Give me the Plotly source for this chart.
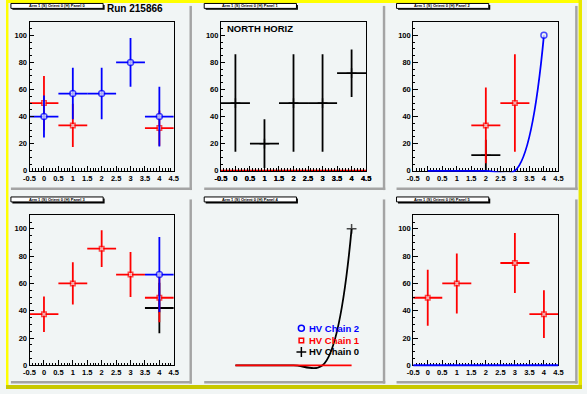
import plotly.graph_objects as go

W, H = 587, 394

# ---------------- data ----------------
X = [0, 1, 2, 3, 4]
X_HALF_WIDTH = [0.5, 0.5, 0.5, 0.5, 0.5]
X_TICK_VALS = [-0.5, 0, 0.5, 1, 1.5, 2, 2.5, 3, 3.5, 4, 4.5]
X_TICK_TEXT = ["-0.5", "0", "0.5", "1", "1.5", "2", "2.5", "3", "3.5", "4", "4.5"]
Y_TICK_VALS = [0, 20, 40, 60, 80, 100]
Y_TICK_TEXT = ["0", "20", "40", "60", "80", "100"]
PANEL_TITLES = ["Arm 1 (S) Orient 0 (H) Panel 0", "Arm 1 (S) Orient 0 (H) Panel 1",
                "Arm 1 (S) Orient 0 (H) Panel 2", "Arm 1 (S) Orient 0 (H) Panel 3",
                "Arm 1 (S) Orient 0 (H) Panel 4", "Arm 1 (S) Orient 0 (H) Panel 5"]
RUN_LABEL = "Run 215866"
NORTH_LABEL = "NORTH HORIZ"
LEGEND_NAMES = ["HV Chain 2", "HV Chain 1", "HV Chain 0"]

P0_CH2_Y = [40, 57, 57, 80, 40]
P0_CH2_E = [15.5, 19, 19, 18, 22]
P0_CH1_Y = [50, 33.5, None, None, 31.5]
P0_CH1_E = [20, 16, 0, 0, 13]

P1_CH0_Y = [50, 20, 50, 50, 72]
P1_CH0_E = [36, 18, 36, 36, 17.5]
P1_CH1_Y = [0, 0, 0, 0, 0]

P2_CH0_Y = [None, None, 11.5, None, None]
P2_CH0_E = [0, 0, 11.5, 0, 0]
P2_CH1_Y = [None, None, 33.5, 50, None]
P2_CH1_E = [0, 0, 28, 36, 0]
P2_CH2_CURVE = [0, 0, 0, 0, 100]

P3_CH0_Y = [None, None, None, None, 42]
P3_CH0_E = [0, 0, 0, 0, 18.5]
P3_CH1_Y = [37.5, 60, 85.5, 66.5, 49.5]
P3_CH1_E = [13, 15.5, 13.5, 16.5, 18]
P3_CH2_Y = [None, None, None, None, 66.5]
P3_CH2_E = [0, 0, 0, 0, 27.5]

P4_CH0_CURVE = [0, 0, 0, 0, 100]
P4_CH1_CURVE = [0, 0, 0, 0, 0]

P5_CH1_Y = [49.5, 60, None, 75, 37.5]
P5_CH1_E = [20.5, 22, 0, 22, 17.5]
P5_CH2_Y = [0, 0, 0, 0, 0]

# ---------------- style ----------------
BG = "#f1f5f5"
YELLOW = "#ffff00"
YELLOW_DARK = "#c8c800"
SHADOW = "#a4a4a4"
FONT = "Liberation Sans"
LW = 1.8
CHAIN = {
    2: dict(color="#0000ff", symbol="circle", size=6),
    1: dict(color="#ff0000", symbol="square", size=4.5),
    0: dict(color="#000000", symbol="cross-thin", size=7),
}

COL_X = [(24, 171), (219, 367), (415, 563)]
ROW_Y = [(22, 173), (218, 370)]
PAD_X = [(2, 187), (199, 384), (395, 580)]
PAD_Y = [(3, 190), (199, 386)]


def fx(px):
    return px / W


def fy(py):
    return 1 - py / H


fig = go.Figure()


def ax(p):
    return ("x" if p == 0 else f"x{p + 1}"), ("y" if p == 0 else f"y{p + 1}")


def err_trace(p, ys, es, ch):
    st = CHAIN[ch]
    xa, ya = ax(p)
    sizes = [0 if (v is None or v == 0) else st["size"] for v in ys]
    return go.Scatter(
        x=X, y=ys, mode="markers", xaxis=xa, yaxis=ya,
        cliponaxis=False, showlegend=False, hoverinfo="skip",
        marker=dict(symbol=st["symbol"], size=sizes,
                    color=BG if ch != 0 else st["color"],
                    line=dict(color=st["color"], width=1.5)),
        error_y=dict(type="data", array=es, thickness=LW, width=0, color=st["color"]),
        error_x=dict(type="data", array=X_HALF_WIDTH, thickness=LW, width=0, color=st["color"]),
    )


def zero_bins_trace(p, ys, ch, yaxis):
    """Empty bins: horizontal bars of +-half width drawn as one polyline."""
    st = CHAIN[ch]
    xa, _ = ax(p)
    xs = [x - h for x, h in zip(X, X_HALF_WIDTH)] + [X[-1] + X_HALF_WIDTH[-1]]
    yv = list(ys) + [ys[-1]]
    return go.Scatter(x=xs, y=yv, mode="lines", xaxis=xa, yaxis=yaxis,
                      line=dict(shape="hv", color=st["color"], width=2),
                      showlegend=False, hoverinfo="skip")


def curve_trace(p, ys, ch, yaxis):
    st = CHAIN[ch]
    xa, _ = ax(p)
    sizes = [0 if v == 0 else st["size"] for v in ys]
    lws = [0 if v == 0 else 1.5 for v in ys]
    return go.Scatter(
        x=X, y=ys, mode="lines+markers", xaxis=xa, yaxis=yaxis,
        cliponaxis=False, showlegend=False, hoverinfo="skip",
        line=dict(shape="spline", color=st["color"], width=LW),
        marker=dict(symbol=st["symbol"], size=sizes,
                    color=BG if ch != 0 else st["color"],
                    line=dict(color=st["color"], width=lws)),
    )


# panel 0
fig.add_trace(err_trace(0, P0_CH1_Y, P0_CH1_E, 1))
fig.add_trace(err_trace(0, P0_CH2_Y, P0_CH2_E, 2))
# panel 1
fig.add_trace(err_trace(1, P1_CH0_Y, P1_CH0_E, 0))
fig.add_trace(zero_bins_trace(1, P1_CH1_Y, 1, "y9"))
# panel 2
fig.add_trace(err_trace(2, P2_CH0_Y, P2_CH0_E, 0))
fig.add_trace(err_trace(2, P2_CH1_Y, P2_CH1_E, 1))
fig.add_trace(curve_trace(2, P2_CH2_CURVE, 2, "y10"))
# panel 3
fig.add_trace(err_trace(3, P3_CH0_Y, P3_CH0_E, 0))
fig.add_trace(err_trace(3, P3_CH1_Y, P3_CH1_E, 1))
fig.add_trace(err_trace(3, P3_CH2_Y, P3_CH2_E, 2))
# panel 4 (curves on an extended hidden y axis so the dip below 0 shows)
fig.add_trace(curve_trace(4, P4_CH0_CURVE, 0, "y7"))
fig.add_trace(curve_trace(4, P4_CH1_CURVE, 1, "y7"))
# panel 5
fig.add_trace(err_trace(5, P5_CH1_Y, P5_CH1_E, 1))
fig.add_trace(zero_bins_trace(5, P5_CH2_Y, 2, "y11"))

# legend keys (pixel-space hidden axes)
LEG_X_MARK, LEG_X_TEXT_CENTER = 301, 334.5
LEG_ROWS = [332.5, 345, 356.5]
for name, ch, yy in zip(LEGEND_NAMES, [2, 1, 0], LEG_ROWS):
    st = CHAIN[ch]
    fig.add_trace(go.Scatter(
        x=[LEG_X_MARK], y=[yy], mode="markers", xaxis="x8", yaxis="y8",
        showlegend=False, hoverinfo="skip", cliponaxis=False,
        marker=dict(symbol=st["symbol"], size=st["size"],
                    color=BG if ch != 0 else st["color"],
                    line=dict(color=st["color"], width=1.5))))

tickfont = dict(family=FONT, size=7.5, color="black", weight="bold")
layout = dict(
    width=W, height=H, margin=dict(l=0, r=0, t=0, b=0, pad=0),
    paper_bgcolor=BG, plot_bgcolor="rgba(0,0,0,0)", showlegend=False,
)
for p in range(6):
    r, c = divmod(p, 3)
    xk = "xaxis" if p == 0 else f"xaxis{p + 1}"
    yk = "yaxis" if p == 0 else f"yaxis{p + 1}"
    xa, ya = ax(p)
    layout[xk] = dict(
        domain=[fx(COL_X[c][0]), fx(COL_X[c][1])], range=[-0.5, 4.5], anchor=ya,
        tickmode="array", tickvals=X_TICK_VALS, ticktext=X_TICK_TEXT,
        ticks="inside", ticklen=5, tickwidth=1, tickcolor="black",
        minor=dict(dtick=0.1, tick0=0, ticks="inside", ticklen=2.5, tickwidth=1, tickcolor="black"),
        showline=True, linecolor="black", linewidth=1, mirror=True,
        showgrid=False, zeroline=False, tickfont=tickfont, fixedrange=True,
    )
    layout[yk] = dict(
        domain=[fy(ROW_Y[r][1]), fy(ROW_Y[r][0])], range=[0, 110], anchor=xa,
        tickmode="array", tickvals=Y_TICK_VALS, ticktext=Y_TICK_TEXT,
        ticks="inside", ticklen=4.5, tickwidth=1, tickcolor="black",
        minor=dict(dtick=5, tick0=0, ticks="inside", ticklen=2.2, tickwidth=1, tickcolor="black"),
        showline=True, linecolor="black", linewidth=1, mirror=True,
        showgrid=False, zeroline=False, tickfont=tickfont, fixedrange=True,
    )


def ext_axis(row, anchor, ext_px):
    y_top, y_bot = ROW_Y[row]
    lo = -110 * ext_px / (y_bot - y_top)
    return dict(domain=[fy(y_bot + ext_px), fy(y_top)], range=[lo, 110],
                anchor=anchor, visible=False, fixedrange=True)


# hidden helper y axes, drawn on top of the frames, slightly extended below y=0
layout["yaxis7"] = ext_axis(1, "x5", 16)
layout["yaxis9"] = ext_axis(0, "x2", 3)
layout["yaxis10"] = ext_axis(0, "x3", 1.5)
layout["yaxis11"] = ext_axis(1, "x6", 3)
layout["xaxis8"] = dict(domain=[0, 1], range=[0, W], anchor="y8", visible=False, fixedrange=True)
layout["yaxis8"] = dict(domain=[0, 1], range=[H, 0], anchor="x8", visible=False, fixedrange=True)

shapes = []


def rect(x0, y0, x1, y1, fill, line=None, lw=0):
    shapes.append(dict(type="rect", xref="paper", yref="paper", layer="below",
                       x0=fx(x0), x1=fx(x1), y0=fy(y1), y1=fy(y0),
                       fillcolor=fill, line=dict(color=line or fill, width=lw)))


# canvas border
rect(0, 0, W, 3, YELLOW)
rect(0, 0, 2.5, H, YELLOW)
rect(W - 3.5, 0, W, H, "#e8e800")
rect(0, H - 4, W, H, YELLOW_DARK)

annotations = []
for p in range(6):
    r, c = divmod(p, 3)
    x0, x1 = PAD_X[c]
    y0, y1 = PAD_Y[r]
    rect(x1, y0 + 3, x1 + 2.5, y1 + 2.5, SHADOW)
    rect(x0 + 3, y1, x1 + 2.5, y1 + 2.5, SHADOW)
    bx0, bx1 = x0 + 3, x0 + 97
    by0, by1 = y0 + 0.5, y0 + 5.5
    rect(bx0 + 1.5, by0 + 1.5, bx1 + 1.5, by1 + 1.5, "black")
    rect(bx0, by0, bx1, by1, "white", "black", 1)
    annotations.append(dict(
        text=PANEL_TITLES[p], xref="paper", yref="paper", showarrow=False,
        x=fx((bx0 + bx1) / 2), y=fy((by0 + by1) / 2), xanchor="center", yanchor="middle",
        font=dict(family=FONT, size=4, color="black", weight="bold")))

annotations.append(dict(text=RUN_LABEL, xref="paper", yref="paper", showarrow=False,
                        x=fx(131), y=fy(9), xanchor="center", yanchor="middle",
                        font=dict(family=FONT, size=10, color="black", weight="bold")))
annotations.append(dict(text=NORTH_LABEL, xref="paper", yref="paper", showarrow=False,
                        x=fx(259), y=fy(28.5), xanchor="center", yanchor="middle",
                        font=dict(family=FONT, size=9.5, color="black", weight="bold")))
for name, ch, yy in zip(LEGEND_NAMES, [2, 1, 0], LEG_ROWS):
    annotations.append(dict(text=name, xref="paper", yref="paper", showarrow=False,
                            x=fx(LEG_X_TEXT_CENTER), y=fy(yy), xanchor="center", yanchor="middle",
                            font=dict(family=FONT, size=9.5, color=CHAIN[ch]["color"], weight="bold")))

layout["shapes"] = shapes
layout["annotations"] = annotations
fig.update_layout(**layout)
fig.write_html("out.html", config={"displayModeBar": False, "staticPlot": True},
               post_script="document.body.style.margin='0';document.body.style.overflow='hidden';")
